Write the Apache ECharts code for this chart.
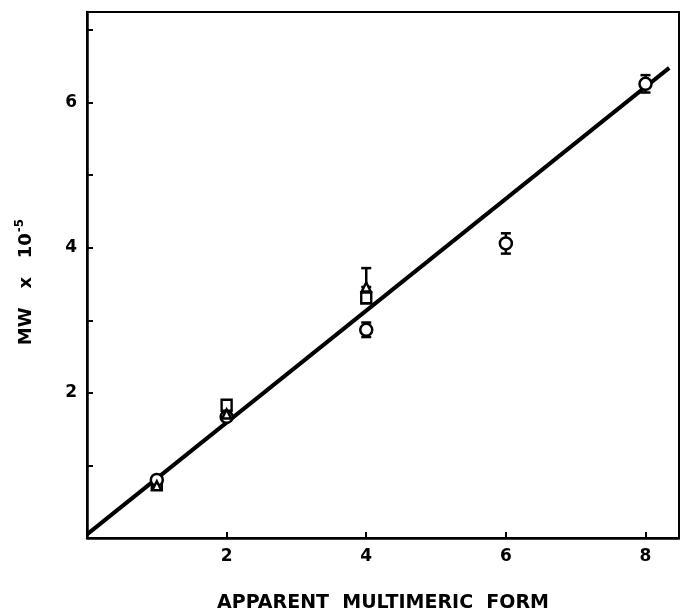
<!DOCTYPE html>
<html>
<head>
<meta charset="utf-8">
<script src="https://cdn.jsdelivr.net/npm/echarts@6/dist/echarts.min.js"></script>
<style>html,body{margin:0;padding:0;background:#fff}#c{width:680px;height:611px}</style>
</head>
<body>
<div id="c"></div>
<script>
// Data
var circlePts = [[1, 0.80], [2, 1.67], [4, 2.87], [6, 4.06], [8, 6.26]];
var squarePts = [[1, 0.74], [2, 1.83], [4, 3.31]];
var trianglePts = [[1, 0.72], [2, 1.71], [4, 3.46]];
// error bars: [x, low, high]
var errorBars = [[4, 3.46, 3.72], [4, 2.77, 2.97], [6, 3.92, 4.20], [8, 6.14, 6.38]];
// fitted line endpoints
var fitLine = [[0, 0.05], [8.34, 6.48]];
var xTicks = [2, 4, 6, 8];
var yLabels = [2, 4, 6];

var FONT = '"DejaVu Sans", "Liberation Sans", sans-serif';
var chart = echarts.init(document.getElementById('c'));
var markerStyle = { color: '#fff', borderColor: '#000', borderWidth: 2.5, opacity: 1 };

chart.setOption({
  animation: false,
  backgroundColor: '#fff',
  grid: {
    left: 87, right: 1, top: 12, bottom: 73, show: true, borderColor: '#000', borderWidth: 2,
    containLabel: false, outerBoundsMode: 'none'
  },
  xAxis: {
    type: 'value', min: 0, max: 8.48, interval: 2,
    splitLine: { show: false },
    axisLine: { onZero: false, lineStyle: { color: '#000', width: 2.5 } },
    axisTick: { inside: true, length: 6, lineStyle: { color: '#000', width: 2 } },
    axisLabel: {
      margin: 10, color: '#000', fontFamily: FONT, fontWeight: 'bold', fontSize: 17,
      showMinLabel: false, showMaxLabel: false,
      formatter: function (v) { return xTicks.indexOf(v) >= 0 ? String(v) : ''; }
    },
    name: 'APPARENT  MULTIMERIC  FORM', nameLocation: 'middle', nameGap: 56,
    nameTextStyle: { color: '#000', fontFamily: FONT, fontWeight: 'bold', fontSize: 19 }
  },
  yAxis: {
    type: 'value', min: 0, max: 7.25, interval: 1,
    splitLine: { show: false },
    axisLine: { onZero: false, lineStyle: { color: '#000', width: 2.5 } },
    axisTick: { inside: true, length: 6, lineStyle: { color: '#000', width: 2 } },
    axisLabel: {
      margin: 10, color: '#000', fontFamily: FONT, fontWeight: 'bold', fontSize: 17,
      showMinLabel: false, showMaxLabel: false,
      formatter: function (v) { return yLabels.indexOf(v) >= 0 ? String(v) : ''; }
    },
    name: '{b|MW   x   10}{s|-5}', nameLocation: 'middle', nameGap: 52, nameRotate: 90,
    nameTextStyle: {
      color: '#000', fontFamily: FONT, fontWeight: 'bold', fontSize: 18,
      rich: {
        b: { color: '#000', fontFamily: FONT, fontWeight: 'bold', fontSize: 18, verticalAlign: 'bottom' },
        s: { color: '#000', fontFamily: FONT, fontWeight: 'bold', fontSize: 12, verticalAlign: 'top', padding: [0, 14, 9, 1] }
      }
    }
  },
  series: [
    {
      type: 'line', data: fitLine, symbol: 'none', z: 1,
      lineStyle: { color: '#000', width: 4 }
    },
    {
      type: 'custom', z: 2,
      renderItem: function (params, api) {
        var x = api.value(0);
        var p1 = api.coord([x, api.value(1)]);
        var p2 = api.coord([x, api.value(2)]);
        var cw = 5;
        var st = { stroke: '#000', lineWidth: 2.5 };
        return {
          type: 'group',
          children: [
            { type: 'line', shape: { x1: p1[0], y1: p1[1], x2: p2[0], y2: p2[1] }, style: st },
            { type: 'line', shape: { x1: p1[0] - cw, y1: p1[1], x2: p1[0] + cw, y2: p1[1] }, style: st },
            { type: 'line', shape: { x1: p2[0] - cw, y1: p2[1], x2: p2[0] + cw, y2: p2[1] }, style: st }
          ]
        };
      },
      data: errorBars
    },
    { type: 'scatter', data: squarePts, symbol: 'rect', symbolSize: [10, 11], itemStyle: markerStyle, z: 3 },
    { type: 'scatter', data: circlePts, symbol: 'circle', symbolSize: 12, itemStyle: markerStyle, z: 4 },
    { type: 'scatter', data: trianglePts, symbol: 'triangle', symbolSize: 9, itemStyle: markerStyle, z: 5 }
  ]
});
</script>
</body>
</html>
